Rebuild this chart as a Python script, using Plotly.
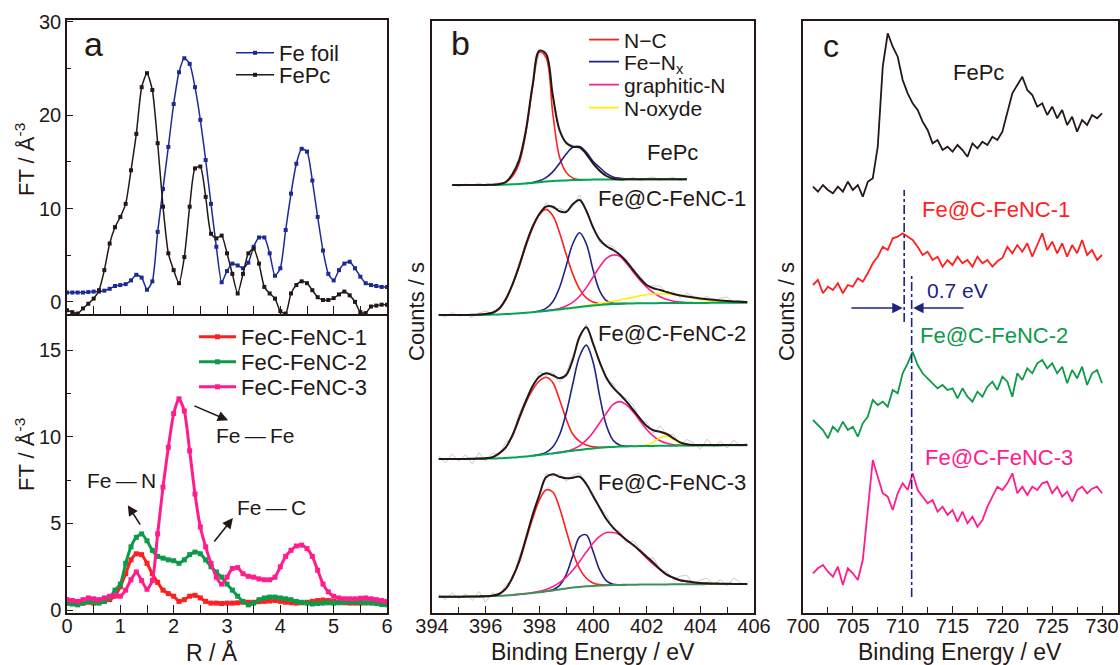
import plotly.graph_objects as go

INK = "#231815"
FONT = "Liberation Sans, Arial, sans-serif"

# ---------------- Panel a : FT of EXAFS (R / Angstrom) ----------------
R_A = [round(0.1 * i, 1) for i in range(61)]
FE_FOIL = [1.0, 1.0, 1.0, 1.0, 1.05, 1.1, 1.1, 1.2, 1.4, 1.7, 1.8, 1.9, 2.3, 2.9, 2.6, 1.3, 2.2, 7.5, 12.1, 16.6,
           21.2, 24.6, 26.1, 25.5, 23.0, 19.5, 15.2, 10.5, 5.9, 2.1, 3.3, 4.1, 3.9, 3.6, 4.2, 5.9, 6.9, 6.9, 5.2, 2.8,
           3.6, 7.7, 11.6, 14.8, 16.4, 16.1, 13.0, 9.1, 5.5, 3.0, 2.3, 3.4, 4.1, 4.3, 3.6, 2.7, 2.0, 1.8, 1.7, 1.6, 1.6]
FEPC_FT = [-0.9, -1.1, -1.25, -0.7, -0.2, 0.35, 1.25, 3.4, 6.25, 8.0, 9.1, 10.5, 14.1, 18.0, 23.0, 24.5, 22.7, 17.0,
           10.2, 5.2, 3.4, 2.0, 4.8, 10.2, 14.3, 14.5, 11.25, 7.3, 6.8, 7.1, 5.2, 3.0, 0.9, 3.0, 5.2, 5.7, 4.1, 1.6,
           0.9, 0.35, -1.0, -1.25, 0.9, 1.8, 2.2, 2.0, 1.25, 0.5, 0.2, 0.2, 0.4, 0.8, 1.1, 0.7, 0.0, -1.1, -1.2, -0.5,
           -0.4, -0.3, -0.3]
FENC1_FT = [0.4, 0.4, 0.35, 0.4, 0.45, 0.4, 0.45, 0.5, 0.6, 0.8, 1.35, 2.1, 2.9, 3.25, 3.2, 2.7, 2.1, 1.6, 1.15, 0.95,
            0.8, 0.5, 0.6, 0.8, 0.85, 0.7, 0.5, 0.4, 0.4, 0.38, 0.4, 0.4, 0.42, 0.45, 0.45, 0.45, 0.48, 0.5, 0.52,
            0.55, 0.5, 0.45, 0.42, 0.4, 0.42, 0.45, 0.5, 0.55, 0.58, 0.55, 0.5, 0.45, 0.42, 0.4, 0.4, 0.4, 0.42, 0.45,
            0.42, 0.38, 0.35]
FENC2_FT = [0.4, 0.35, 0.3, 0.4, 0.5, 0.45, 0.4, 0.5, 0.7, 1.15, 1.5, 2.7, 3.65, 4.2, 4.4, 4.0, 3.45, 3.1, 3.0, 2.9,
            2.85, 2.7, 2.9, 3.2, 3.35, 3.25, 2.9, 2.5, 2.2, 1.9, 1.5, 1.15, 0.8, 0.5, 0.3, 0.4, 0.6, 0.7, 0.75, 0.75,
            0.7, 0.65, 0.6, 0.5, 0.45, 0.4, 0.35, 0.38, 0.4, 0.42, 0.4, 0.42, 0.45, 0.45, 0.45, 0.45, 0.42, 0.4, 0.38,
            0.32, 0.3]
FENC3_FT = [0.6, 0.55, 0.5, 0.6, 0.7, 0.65, 0.6, 0.7, 0.8, 0.85, 0.8, 1.15, 1.75, 2.2, 1.7, 1.2, 1.7, 4.4, 7.1, 9.4,
            11.35, 12.2, 11.5, 9.2, 6.7, 4.8, 3.65, 2.7, 1.9, 1.5, 1.9, 2.4, 2.45, 2.1, 1.95, 1.9, 1.8, 1.75, 1.75,
            1.9, 2.5, 3.1, 3.45, 3.7, 3.75, 3.55, 3.1, 2.3, 1.5, 1.05, 0.8, 0.7, 0.65, 0.65, 0.65, 0.68, 0.7, 0.65,
            0.6, 0.55, 0.5]

# ---------------- Panel b : N 1s XPS (heights in plot units) ----------------
E_N = [394.25 + 0.25 * i for i in range(47)]
E_N_FEPC = [394.75 + 0.25 * i for i in range(36)]

FEPC_BASE = [0, 0, 0, 0, 0, 0, 0.1, 0.2, 0.4, 0.7, 1.0, 1.5, 2.1, 2.8, 3.4, 3.9, 4.3, 4.6, 4.9, 5.1, 5.3, 5.4, 5.5,
             5.6, 5.6, 5.7, 5.7, 5.7, 5.7, 5.7, 5.7, 5.7, 5.7, 5.7, 5.7, 5.7]
FEPC_ENV = [0, 0, 0, 0, 0, 0.1, 0.3, 0.8, 3, 11, 25, 55, 100, 134.3, 131, 90, 55, 42.3, 38.3, 37.7, 31, 21.7, 14.3,
            9, 6.3, 5.5, 5.7, 5.7, 5.7, 5.7, 5.7, 5.7, 5.7, 5.7, 5.7, 5.7]
FEPC_NC = [0, 0, 0, 0, 0, 0, 0, 0.5, 2.5, 8, 21, 51, 96, 130, 124, 68, 24, 8, 2, 0.3,
           0, 0, 0, 0, 0, 0, 0, 0, 0, 0, 0, 0, 0, 0, 0, 0]
FEPC_FENX = [0, 0, 0, 0, 0, 0, 0, 0, 0, 0, 0, 0, 0.4, 1.4, 4.0, 9.2, 17.3, 26.4, 32.9, 33.3, 27.4, 18.4, 12, 6,
             2.5, 1.0, 0.3, 0, 0, 0, 0, 0, 0, 0, 0, 0]
FEPC_NOISE = [0.5, -1.5, 1.0, -0.5, 2.0, -1.0, 0.5, 1.5, -2.0, 1.0, 2.5, -1.5, 1.0, -2.0, 2.0, -1.0, 3.0, -2.0,
              1.5, -1.0, 2.0, 0.5, -1.5, 2.5, -1.0, 1.5, -0.5, 2.0, -1.5, 1.0, 2.5, -1.0, 0.5, 2.0, -1.5, 1.0]

S1_BASE = [0, 0, 0, 0, 0, 0, 0.1, 0.2, 0.4, 0.6, 0.9, 1.3, 1.7, 2.2, 2.8, 3.4, 4.1, 4.8, 5.6, 6.4, 7.2, 8.0, 8.8,
           9.5, 10.1, 10.6, 11.0, 11.3, 11.5, 11.6, 11.7, 11.8, 11.8, 11.9, 11.9, 12.0, 12.0, 12.0, 12.1, 12.1, 12.1,
           12.2, 12.2, 12.2, 12.3, 12.3, 12.3]
S1_ENV = [0, 0, 0, 0, 0.1, 0.2, 0.5, 1.0, 2.3, 6.3, 16, 30.7, 49.3, 70.7, 88.3, 101, 108.3, 108.3, 103.7, 103, 111,
          115, 104.3, 87.7, 75.3, 68.7, 65, 60.3, 53.3, 45, 36.7, 30, 26.7, 25, 23, 21, 19.5, 18.5, 17.5, 16.5, 15.8,
          15.2, 14.6, 14.1, 13.6, 13.2, 12.9]
S1_NC = [0, 0, 0, 0, 0, 0, 0.2, 0.6, 1.8, 5.5, 14.5, 29, 47, 66.8, 84.3, 96.9, 101.5, 94.7, 76.9, 54.3, 33.4, 17.9,
         8.3, 3.4, 1.2, 0.4, 0.1, 0, 0, 0, 0, 0, 0, 0, 0, 0, 0, 0, 0, 0, 0, 0, 0, 0, 0, 0, 0]
S1_FENX = [0, 0, 0, 0, 0, 0, 0, 0, 0, 0, 0, 0, 0, 0, 0, 0.6, 2.5, 8.5, 21.7, 42.7, 64.3, 74.3, 62.4, 35.9, 14.1,
           3.8, 0.7, 0.1, 0, 0, 0, 0, 0, 0, 0, 0, 0, 0, 0, 0, 0, 0, 0, 0, 0, 0, 0]
S1_GRAPH = [0, 0, 0, 0, 0, 0, 0, 0, 0, 0, 0, 0, 0, 0, 0, 0.0, 0.1, 0.4, 1.0, 2.6, 5.6, 10.8, 18.6, 28.3, 38.2, 46.0,
            49.0, 47.3, 40.0, 31.5, 23.0, 16.0, 10.5, 6.3, 3.5, 1.8, 0.9, 0.4, 0.2, 0, 0, 0, 0, 0, 0, 0, 0]
S1_NOX = [0, 0, 0, 0, 0, 0, 0, 0, 0, 0, 0, 0, 0, 0, 0, 0, 0, 0, 0, 0, 0.1, 0.2, 0.4, 0.7, 1.2, 1.8, 2.7, 3.7, 4.9,
          6.2, 7.5, 8.5, 9.2, 9.4, 9.2, 8.5, 7.5, 6.2, 4.9, 3.7, 2.7, 1.8, 1.2, 0.7, 0.4, 0.2, 0.1]
S1_NOISE = [1.0, -2.0, 2.5, -1.0, 0.5, -2.5, 1.5, 3.0, -1.0, 2.0, -2.5, 1.0, 3.0, -1.5, 2.0, -1.0, 4.0, -2.0, 3.0,
            1.0, -2.5, 5.0, -1.0, 2.0, -3.0, 1.5, 3.5, -1.0, 2.0, -2.0, 3.0, -1.5, 2.5, 4.0, -1.0, 2.0, -2.5, 3.5,
            1.0, -1.5, 3.0, -2.0, 2.5, 4.0, -1.0, 1.5, 0.5]

S2_BASE = [0, 0, 0, 0, 0, 0.1, 0.2, 0.3, 0.5, 0.7, 1.0, 1.4, 1.9, 2.5, 3.2, 4.0, 4.8, 5.6, 6.5, 7.4, 8.3, 9.1, 9.9,
           10.6, 11.2, 11.7, 12.1, 12.4, 12.6, 12.8, 12.9, 13.0, 13.1, 13.2, 13.3, 13.3, 13.4, 13.4, 13.5, 13.5,
           13.5, 13.6, 13.6, 13.7, 13.7, 13.8, 13.8]
S2_ENV = [0, 0, 0, 0, 0.1, 0.2, 0.4, 0.8, 1.8, 5.7, 11.7, 24, 41.3, 58, 73, 82.3, 85.7, 83.7, 80.7, 84, 99.7, 122.3,
          131.7, 115.7, 96.7, 81.3, 71.3, 64.7, 57.3, 49, 40.7, 33, 28.7, 27.3, 25, 20.7, 16.7, 14.7, 14, 14, 13.9,
          13.9, 13.9, 14, 14, 14, 14]
S2_NC = [0, 0, 0, 0, 0, 0, 0.1, 0.3, 1.0, 4.5, 10.5, 22, 38, 54, 66, 74, 77, 71, 53, 32.6, 16.4, 8.5, 4, 1.5, 0.4,
         0.1, 0, 0, 0, 0, 0, 0, 0, 0, 0, 0, 0, 0, 0, 0, 0, 0, 0, 0, 0, 0, 0]
S2_FENX = [0, 0, 0, 0, 0, 0, 0, 0, 0, 0, 0, 0, 0, 0, 0, 0.4, 1.8, 6.4, 17.5, 38.4, 67.2, 93.6, 104, 86.6, 51.5, 21.8,
           6.6, 1.4, 0.2, 0, 0, 0, 0, 0, 0, 0, 0, 0, 0, 0, 0, 0, 0, 0, 0, 0, 0]
S2_GRAPH = [0, 0, 0, 0, 0, 0, 0, 0, 0, 0, 0, 0, 0, 0, 0, 0, 0, 0, 0.1, 0.2, 1.5, 4.0, 9.0, 16, 25, 34, 42.6, 45,
            41.5, 34.2, 25.1, 16.5, 9.7, 5.1, 2.4, 1.0, 0.4, 0.1, 0, 0, 0, 0, 0, 0, 0, 0, 0]
S2_NOX = [0, 0, 0, 0, 0, 0, 0, 0, 0, 0, 0, 0, 0, 0, 0, 0, 0, 0, 0, 0, 0, 0, 0, 0, 0, 0, 0, 0, 0, 0, 0.2, 1.0, 3.8,
          8.1, 9.6, 6.4, 2.4, 0.5, 0, 0, 0, 0, 0, 0, 0, 0, 0]
S2_NOISE = [3, -4, 5, -2, 4, -5, 6, -3, 4, -2, 5, -3, 4, 2, -3, 5, -2, 3, -4, 2, 4, -2, 3, -1, 2, -3, 4, -2, 3, 5,
            -2, 4, -3, 6, -1, 4, -3, 5, 2, -4, 6, -2, 4, -3, 5, -1, 2]

S3_BASE = [0, 0, 0, 0, 0, 0.1, 0.2, 0.4, 0.6, 0.9, 1.3, 1.8, 2.4, 3.0, 3.7, 4.5, 5.4, 6.3, 7.3, 8.3, 9.1, 9.8, 10.4,
           10.8, 11.1, 11.4, 11.6, 11.8, 11.9, 12.0, 12.1, 12.2, 12.2, 12.3, 12.3, 12.4, 12.4, 12.5, 12.5, 12.5,
           12.6, 12.6, 12.6, 12.7, 12.7, 12.7, 12.7]
S3_ENV = [0, 0, 0, 0, 0.1, 0.1, 0.3, 0.5, 1.0, 2.7, 8.0, 19.4, 35.7, 58.4, 81.7, 101.7, 119.4, 122.4, 120, 118.4,
          119, 120, 112.7, 100.7, 89, 77.4, 69, 62.4, 56.7, 51.7, 46, 40, 34, 27.4, 22, 19, 16.5, 15.5, 14.5, 13.8,
          13.4, 13.2, 13.0, 12.9, 12.8, 12.8, 12.7]
S3_NC = [0, 0, 0, 0, 0, 0, 0, 0.2, 0.6, 1.8, 6.5, 17, 32, 53.4, 74.4, 92.1, 101.4, 98.4, 81.7, 58.0, 35.1, 18.2, 8.1,
         3.0, 1.0, 0.3, 0.1, 0, 0, 0, 0, 0, 0, 0, 0, 0, 0, 0, 0, 0, 0, 0, 0, 0, 0, 0, 0]
S3_FENX = [0, 0, 0, 0, 0, 0, 0, 0, 0, 0, 0, 0, 0, 0, 0, 0, 0.1, 0.7, 3.8, 13.7, 32.2, 50.1, 51.4, 34.7, 15.5, 4.5,
           0.9, 0.1, 0, 0, 0, 0, 0, 0, 0, 0, 0, 0, 0, 0, 0, 0, 0, 0, 0, 0, 0]
S3_GRAPH = [0, 0, 0, 0, 0, 0, 0, 0, 0, 0, 0, 0, 0.1, 0.2, 0.4, 0.9, 1.9, 3.7, 6.7, 11.2, 17.6, 25.5, 34.2, 42.6,
            49.2, 52.7, 52.6, 50.0, 44.5, 39.7, 33.1, 26.3, 20.1, 14.6, 9.5, 6.3, 3.9, 2.6, 1.5, 0.9, 0.5, 0.2, 0.1,
            0, 0, 0, 0]
S3_NOISE = [2, -3, 4, -2, 3, -4, 5, -6, 3, -2, 4, -3, 5, -2, 3, -1, 4, -2, 3, -3, 2, 4, -2, 3, -1, 5, -2, 3, -3, 4,
            2, -2, 5, -1, 3, -2, 4, 6, -2, 3, 5, -1, 4, -2, 6, 1, -1]

# ---------------- Panel c : Fe L-edge (plot units) ----------------
E_FE = [701 + 0.5 * i for i in range(59)]
C_FEPC = [426.3, 421.3, 428, 423, 419.7, 426.3, 421.3, 431.3, 423, 428, 416.3, 431.3, 434.7, 466.3, 546.3, 579.7,
          566.3, 556.3, 533, 519.7, 509.7, 503, 491.3, 483, 469.7, 473, 463, 466.3, 461.3, 468, 463, 456.3, 469.7,
          464.7, 471.3, 468, 476.3, 473, 481.3, 499.7, 519.7, 528, 536.3, 523, 518, 506.3, 509.7, 498, 506.3, 494.7,
          503, 488, 496.3, 481.3, 493, 488, 498, 494.7, 499.7]
C_FENC1 = [328, 333, 319.7, 326.3, 323, 329.7, 319.7, 328, 326.3, 334.7, 331.3, 339.7, 349.7, 356.3, 366.3, 363,
           374.7, 376.3, 379.7, 376.3, 373, 366.3, 358, 361.3, 353, 356.3, 346.3, 353, 348, 356.3, 349.7, 353, 346.3,
           356.3, 349.7, 353, 346.3, 351.7, 355, 366.3, 359.7, 368, 361.3, 369.7, 356.3, 368, 379.7, 363, 371.3,
           359.7, 369.7, 356.3, 368, 359.7, 373, 358, 363, 353, 358]
C_FENC2 = [193, 188, 183, 174.7, 186.3, 181.3, 191.3, 183, 186.3, 176.3, 189.7, 196.3, 213, 208, 211.3, 206.3, 223,
           219.7, 239.7, 249.7, 261.3, 248, 239.7, 234.7, 229.7, 224.7, 228, 223, 224.7, 214.7, 224.7, 216.3, 211.3,
           221.3, 216.3, 226.3, 231.3, 223, 236.3, 231.3, 216.3, 239.7, 233, 244.7, 239.7, 249.7, 253, 244.7, 249.7,
           239.7, 246.3, 229.7, 243, 234.7, 246.3, 228, 239.7, 243, 229.7]
C_FENC3 = [39.7, 44.7, 48, 41.3, 36.3, 46.3, 28, 44.7, 39.7, 33, 53, 99.7, 153, 136.3, 119.7, 116.3, 103, 119.7,
           129.7, 123, 139.7, 123, 116.3, 109.7, 113, 101.3, 106.3, 98, 103, 91.3, 101.3, 89.7, 96.3, 86.3, 93, 106.3,
           116.3, 126.3, 123, 129.7, 139.7, 119.7, 126.3, 118, 126.3, 123, 129.7, 131.3, 119.7, 126.3, 116.3, 121.3,
           111.3, 123, 126.3, 119.7, 124.3, 126.3, 119.7]

# ---------------- colours ----------------
C_BLUE_A, C_RED, C_GREEN, C_PINK = "#1c2a94", "#ff1f1f", "#0d9a4a", "#ff1c8d"
C_NAVY, C_YEL, C_BASE, C_RAW = "#1f2384", "#fff000", "#00a651", "#cccccc"


def px(x):
    return x / 1120.0


def py(y):
    return 1 - y / 665.0


fig = go.Figure()
legends = {}


def legbox(key, x, y, size, itemwidth):
    legends[key] = dict(x=px(x), y=py(y), xanchor="left", yanchor="middle", bgcolor="rgba(0,0,0,0)",
                        borderwidth=0, font=dict(family=FONT, size=size, color=INK), itemwidth=itemwidth,
                        tracegroupgap=0)


# ---- panel a top
for ys, nm, col, lg, yy in [(FE_FOIL, "Fe foil", C_BLUE_A, "legend", 53), (FEPC_FT, "FePc", INK, "legend2", 75)]:
    legbox(lg, 231, yy, 22, 38)
    fig.add_trace(go.Scatter(x=R_A, y=ys, name=nm, mode="lines+markers", xaxis="x", yaxis="y", legend=lg,
                             line=dict(color=col, width=1.5, shape="spline", smoothing=0.6),
                             marker=dict(symbol="square", size=4, color=col)))
# ---- panel a bottom
for ys, nm, col, lg, yy in [(FENC1_FT, "FeC-FeNC-1", C_RED, "legend3", 337),
                            (FENC2_FT, "FeC-FeNC-2", C_GREEN, "legend4", 362),
                            (FENC3_FT, "FeC-FeNC-3", C_PINK, "legend5", 387)]:
    legbox(lg, 194, yy, 22, 37)
    fig.add_trace(go.Scatter(x=R_A, y=ys, name=nm, mode="lines+markers", xaxis="x2", yaxis="y2", legend=lg,
                             line=dict(color=col, width=3, shape="spline", smoothing=0.6),
                             marker=dict(symbol="square", size=5, color=col)))


# ---- panel b
def seg(xs, ys):
    nz = [i for i, v in enumerate(ys) if v > 0]
    a, b = max(nz[0] - 1, 0), min(nz[-1] + 1, len(ys) - 1)
    return xs[a:b + 1], ys[a:b + 1]


COMP_STYLE = {"nc": ("N\u2212C", C_RED), "fenx": ("Fe\u2212N<sub>x</sub>", C_NAVY),
              "graph": ("graphitic-N", C_PINK), "nox": ("N-oxyde", C_YEL)}
spectra = [
    (E_N_FEPC, 428.0, FEPC_BASE, FEPC_ENV, FEPC_NOISE, [("nc", FEPC_NC), ("fenx", FEPC_FENX)], C_BASE),
    (E_N, 298.0, S1_BASE, S1_ENV, S1_NOISE,
     [("nc", S1_NC), ("fenx", S1_FENX), ("graph", S1_GRAPH), ("nox", S1_NOX)], C_BASE),
    (E_N, 154.0, S2_BASE, S2_ENV, S2_NOISE,
     [("nc", S2_NC), ("fenx", S2_FENX), ("graph", S2_GRAPH), ("nox", S2_NOX)], C_BASE),
    (E_N, 16.3, S3_BASE, S3_ENV, S3_NOISE, [("nc", S3_NC), ("fenx", S3_FENX), ("graph", S3_GRAPH)], "#3f8f5a"),
]
comp_traces = []
for xs, off, base, env, noise, comps, bcol in spectra:
    assert len(xs) == len(base) == len(env) == len(noise)
    raw = [off + e + n for e, n in zip(env, noise)]
    fig.add_trace(go.Scatter(x=xs, y=raw, mode="lines", xaxis="x3", yaxis="y3", showlegend=False,
                             line=dict(color=C_RAW, width=1)))
    for key, vals in comps:
        assert len(vals) == len(xs)
        cx, cv = seg(xs, vals)
        i0 = xs.index(cx[0])
        cb = base[i0:i0 + len(cx)]
        nm, col = COMP_STYLE[key]
        comp_traces.append(go.Scatter(x=cx, y=[off + b + v for b, v in zip(cb, cv)], mode="lines", name=nm,
                                      xaxis="x3", yaxis="y3", showlegend=False,
                                      line=dict(color=col, width=1.6, shape="spline")))
for t in comp_traces:
    fig.add_trace(t)
for xs, off, base, env, noise, comps, bcol in spectra:
    fig.add_trace(go.Scatter(x=xs, y=[off + b for b in base], mode="lines", xaxis="x3", yaxis="y3",
                             showlegend=False, line=dict(color=bcol, width=2, shape="spline")))
    fig.add_trace(go.Scatter(x=xs, y=[off + e for e in env], mode="lines", xaxis="x3", yaxis="y3",
                             showlegend=False, line=dict(color=INK, width=2, shape="spline")))
# legend entries for panel b
for key, lg, yy in [("nc", "legend6", 40), ("fenx", "legend7", 62), ("graph", "legend8", 85),
                    ("nox", "legend9", 108)]:
    nm, col = COMP_STYLE[key]
    legbox(lg, 584, yy, 21, 30)
    fig.add_trace(go.Scatter(x=[None], y=[None], mode="lines", name=nm, xaxis="x3", yaxis="y3",
                             legend=lg, line=dict(color=col, width=1.6)))

# ---- panel c
for ys, col in [(C_FEPC, INK), (C_FENC1, C_RED), (C_FENC2, C_GREEN), (C_FENC3, C_PINK)]:
    fig.add_trace(go.Scatter(x=E_FE, y=ys, mode="lines", xaxis="x4", yaxis="y4", showlegend=False,
                             line=dict(color=col, width=1.8)))

frame = dict(showline=True, linecolor=INK, linewidth=1.5, mirror=True, showgrid=False, zeroline=False,
             automargin=False, tickcolor=INK, tickwidth=1.2, ticks="inside",
             tickfont=dict(family=FONT, size=20, color=INK))
XA = [px(67), px(387)]
fig.update_layout(
    template="none",
    width=1120, height=665, margin=dict(l=0, r=0, t=0, b=0, autoexpand=False),
    paper_bgcolor="white", plot_bgcolor="white", font=dict(family=FONT, color=INK),
    xaxis=dict(frame, domain=XA, anchor="y", range=[0, 6], showticklabels=False,
               dtick=0.5, tick0=0, ticklen=8),
    yaxis=dict(frame, domain=[py(314), py(20)], anchor="x", range=[-1.3, 30.2], dtick=10,
               tick0=0, ticklen=6, minor=dict(dtick=5, ticks="inside", ticklen=4, tickcolor=INK)),
    xaxis2=dict(frame, domain=XA, anchor="y2", range=[0, 6], dtick=1, tick0=0, ticklen=8, mirror=False,
                ticklabelstandoff=-6,
                minor=dict(dtick=0.5, ticks="inside", ticklen=8, tickcolor=INK)),
    yaxis2=dict(frame, domain=[py(613), py(314)], anchor="x2", range=[-0.17, 17.1], dtick=5,
                tick0=0, ticklen=6, minor=dict(dtick=2.5, ticks="inside", ticklen=4, tickcolor=INK)),
    xaxis3=dict(frame, domain=[px(432), px(754)], anchor="y3", range=[394, 406], dtick=2,
                tick0=394, ticklen=7, ticklabelstandoff=-6,
                minor=dict(dtick=1, ticks="inside", ticklen=6, tickcolor=INK)),
    yaxis3=dict(frame, domain=[py(613), py(21)], anchor="x3", range=[0, 592], showticklabels=False, ticks=""),
    xaxis4=dict(frame, domain=[px(803), px(1118)], anchor="y4", range=[700, 731.6], dtick=5,
                tick0=700, ticklen=7, ticklabelstandoff=-6,
                minor=dict(dtick=2.5, ticks="inside", ticklen=6, tickcolor=INK)),
    yaxis4=dict(frame, domain=[py(613), py(21)], anchor="x4", range=[0, 592], showticklabels=False, ticks=""),
    showlegend=True,
    **legends,
)

ann = []


def txt(x, y, s, size, color=INK, angle=0, xref="paper", yref="paper", xanchor="center"):
    ann.append(dict(x=x, y=y, text=s, xref=xref, yref=yref, showarrow=False, textangle=angle,
                    font=dict(family=FONT, size=size, color=color), xanchor=xanchor, yanchor="middle"))


TS = "\u2009\u2014\u2009"
# panel letters
txt(px(93), py(44), "a", 34)
txt(px(460), py(43), "b", 34)
txt(px(831), py(46), "c", 32)
# axis titles
txt(px(25), py(160), "FT / \u00c5<sup>-3</sup>", 22, angle=-90)
txt(px(25), py(455), "FT / \u00c5<sup>-3</sup>", 22, angle=-90)
txt(px(212), py(652), "R / \u00c5", 23)
txt(px(593), py(652), "Binding Energy / eV", 23)
txt(px(960), py(652), "Binding Energy / eV", 23)
txt(px(416), py(312), "Counts / s", 22, angle=-90)
txt(px(786), py(312), "Counts / s", 22, angle=-90)
# panel a bonds
txt(3.53, 10.1, "Fe" + TS + "Fe", 21, xref="x2", yref="y2")
txt(1.03, 7.5, "Fe" + TS + "N", 21, xref="x2", yref="y2")
txt(3.84, 5.9, "Fe" + TS + "C", 21, xref="x2", yref="y2")
# panel b sample labels
for y, s in [(461, "FePc"), (415, "Fe@C-FeNC-1"), (280, "Fe@C-FeNC-2"), (131, "Fe@C-FeNC-3")]:
    txt(402.95, y, s, 22, xref="x3", yref="y3")
# panel c sample labels
txt(717.6, 541, "FePc", 22, xref="x4", yref="y4")
txt(719.4, 404, "Fe@C-FeNC-1", 22, color=C_RED, xref="x4", yref="y4")
txt(719.2, 278, "Fe@C-FeNC-2", 22, color=C_GREEN, xref="x4", yref="y4")
txt(719.7, 156, "Fe@C-FeNC-3", 22, color=C_PINK, xref="x4", yref="y4")
txt(715.5, 323, "0.7 eV", 21, color=C_NAVY, xref="x4", yref="y4")


def arrow(x, y, ax, ay, xr, yr, color=INK):
    ann.append(dict(x=x, y=y, ax=ax, ay=ay, xref=xr, yref=yr, axref=xr, ayref=yr, text="", showarrow=True,
                    arrowhead=2, arrowsize=1.3, arrowwidth=1.6, arrowcolor=color))


arrow(3.02, 10.96, 2.36, 11.83, "x2", "y2")
arrow(1.14, 6.06, 1.39, 4.85, "x2", "y2")
arrow(3.11, 5.31, 2.74, 3.87, "x2", "y2")
arrow(710.0, 305, 704.7, 305, "x4", "y4", C_NAVY)
arrow(711.05, 305, 716.25, 305, "x4", "y4", C_NAVY)
fig.update_layout(annotations=ann)

fig.update_layout(shapes=[
    dict(type="line", xref="x4", yref="y4", x0=710.15, x1=710.15, y0=291, y1=423,
         line=dict(color=C_NAVY, width=1.6, dash="dashdot")),
    dict(type="line", xref="x4", yref="y4", x0=710.9, x1=710.9, y0=16, y1=338,
         line=dict(color=C_NAVY, width=1.6, dash="dashdot")),
])

fig.write_html("out.html", config={"displayModeBar": False},
               post_script="document.body.style.margin='0px';document.documentElement.style.margin='0px';")
